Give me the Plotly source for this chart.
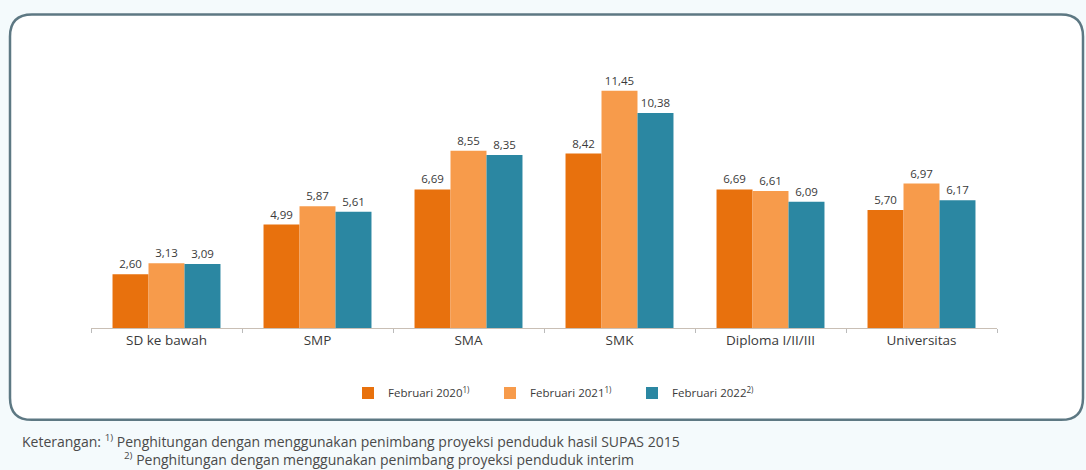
import plotly.graph_objects as go

categories = ["SD ke bawah", "SMP", "SMA", "SMK", "Diploma I/II/III", "Universitas"]
feb2020 = [2.60, 4.99, 6.69, 8.42, 6.69, 5.70]
feb2021 = [3.13, 5.87, 8.55, 11.45, 6.61, 6.97]
feb2022 = [3.09, 5.61, 8.35, 10.38, 6.09, 6.17]
series_names = ["Februari 2020<sup>1)</sup>", "Februari 2021<sup>1)</sup>", "Februari 2022<sup>2)</sup>"]
colors = ["#E8710D", "#F79B4B", "#2B87A2"]
footer1 = "Keterangan: <sup>1)</sup> Penghitungan dengan menggunakan penimbang proyeksi penduduk hasil SUPAS 2015"
footer2 = "<sup>2)</sup> Penghitungan dengan menggunakan penimbang proyeksi penduduk interim"

W, H = 1086, 470
L, R_EDGE = 91, 997
BASE_Y = 328
Y_MAX = 12.5
PX_PER_UNIT = 20.75
TOP = BASE_Y - Y_MAX * PX_PER_UNIT
ML, MR, MT, MB = L, W - R_EDGE, TOP, H - BASE_Y
PW, PH = R_EDGE - L, BASE_Y - TOP

def px(x):
    return (x - L) / PW

def py(y):
    return (BASE_Y - y) / PH

FONT = "Open Sans"
fig = go.Figure()
for name, vals, col in zip(series_names, [feb2020, feb2021, feb2022], colors):
    fig.add_trace(go.Bar(
        x=categories, y=vals, name=name, marker=dict(color=col, line=dict(width=0)),
        texttemplate="%{y:.2f}", textposition="outside", cliponaxis=False,
        textfont=dict(family=FONT, size=11.5, color="#3a3a3a"),
    ))

# rounded box
x0, x1, y0, y1, r = 10, 1083, 14, 420, 22
path = (f"M {px(x0 + r)},{py(y0)} L {px(x1 - r)},{py(y0)} "
        f"Q {px(x1)},{py(y0)} {px(x1)},{py(y0 + r)} L {px(x1)},{py(y1 - r)} "
        f"Q {px(x1)},{py(y1)} {px(x1 - r)},{py(y1)} L {px(x0 + r)},{py(y1)} "
        f"Q {px(x0)},{py(y1)} {px(x0)},{py(y1 - r)} L {px(x0)},{py(y0 + r)} "
        f"Q {px(x0)},{py(y0)} {px(x0 + r)},{py(y0)} Z")

fig.update_layout(
    width=W, height=H,
    margin=dict(l=ML, r=MR, t=MT, b=MB, pad=0),
    paper_bgcolor="#f4fafc", plot_bgcolor="rgba(0,0,0,0)",
    separators=",.",
    barmode="group", bargap=0.285, bargroupgap=0,
    font=dict(family=FONT, color="#3a3a3a"),
    showlegend=True,
    legend=dict(orientation="h", x=px(348), xanchor="left", y=py(393), yanchor="middle",
                font=dict(family=FONT, size=11.5, color="#3a3a3a"),
                entrywidth=97, entrywidthmode="pixels", itemwidth=30,
                bgcolor="rgba(0,0,0,0)", traceorder="normal"),
    shapes=[dict(type="path", xref="paper", yref="paper", path=path,
                 fillcolor="white", line=dict(color="#5d7883", width=2.5), layer="below")],
    annotations=[
        dict(text=footer1, xref="paper", yref="paper", x=px(20), y=py(441), xanchor="left",
             yanchor="middle", showarrow=False, font=dict(family=FONT, size=14, color="#4a4a4a")),
        dict(text=footer2, xref="paper", yref="paper", x=px(122), y=py(459), xanchor="left",
             yanchor="middle", showarrow=False, font=dict(family=FONT, size=14, color="#4a4a4a")),
    ],
)
fig.update_xaxes(showline=True, linecolor="#c9bfb5", linewidth=1.2, ticks="outside",
                 tickson="boundaries", ticklen=4, tickcolor="#bbbbbb",
                 tickfont=dict(family=FONT, size=13.5, color="#3a3a3a"), showgrid=False)
fig.update_yaxes(range=[0, Y_MAX], visible=False, showgrid=False, zeroline=False)

fig.write_html("out.html")
